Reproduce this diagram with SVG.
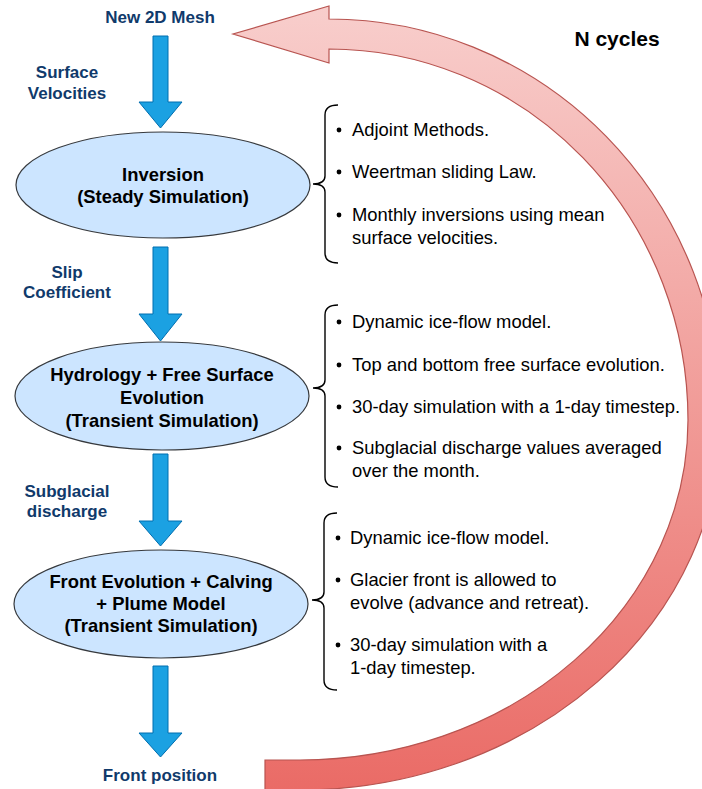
<svg xmlns="http://www.w3.org/2000/svg" width="702" height="789" viewBox="0 0 702 789">
<defs>
<linearGradient id="redGrad" x1="0" y1="0" x2="0" y2="1">
<stop offset="0" stop-color="#f8cecc"/>
<stop offset="1" stop-color="#ea6b66"/>
</linearGradient>
<style>
.node ellipse{fill:#cce5ff;stroke:#36393d;stroke-width:1.2}
.ntext{font-family:"Liberation Sans",Arial,Helvetica,sans-serif;font-weight:bold;font-size:18.4px;fill:#000;text-anchor:middle}
.lbl{font-family:"Liberation Sans",Arial,Helvetica,sans-serif;font-weight:bold;font-size:17px;fill:#103a6b;text-anchor:middle}
.blue{fill:#1ba1e2;stroke:#006eaf;stroke-width:1}
.btxt{font-family:"Liberation Sans",Arial,Helvetica,sans-serif;font-size:18.4px;fill:#000}
.brace{fill:none;stroke:#000;stroke-width:1.4}
.dot{fill:#000}
</style>
</defs>
<rect width="702" height="789" fill="#ffffff"/>

<g id="cycle-arrow">
<path d="M329,19 A392,401 0 0 1 721,420 A421,370 0 0 1 300,790 L265,792 L265,760 L300,760 A388,340 0 0 0 688,420 A359,371 0 0 0 329,49 L329,63 L233,34 L329,6 Z" fill="url(#redGrad)" stroke="#b85450" stroke-width="1.2"/>
</g>
<text x="617" y="46" font-family="'Liberation Sans',Arial,Helvetica,sans-serif" font-weight="bold" font-size="21" fill="#000" text-anchor="middle">N cycles</text>

<g id="connectors">
<polygon class="blue" points="153,36 168,36 168,102 182,102 160.5,128 139,102 153,102"/>
<polygon class="blue" points="153,247 168,247 168,314 182,314 160.5,341 139,314 153,314"/>
<polygon class="blue" points="153,454 168,454 168,521 182,521 160.5,546 139,521 153,521"/>
<polygon class="blue" points="153,666 168,666 168,733 182,733 160.5,757 139,733 153,733"/>
</g>

<g id="labels">
<text class="lbl" x="160" y="23">New 2D Mesh</text>
<text class="lbl" x="67" y="78">Surface</text>
<text class="lbl" x="67" y="99">Velocities</text>
<text class="lbl" x="67" y="278">Slip</text>
<text class="lbl" x="67" y="298">Coefficient</text>
<text class="lbl" x="67" y="497">Subglacial</text>
<text class="lbl" x="67" y="517">discharge</text>
<text class="lbl" x="160" y="781">Front position</text>
</g>

<g id="node-inversion" class="node">
<ellipse cx="163" cy="185" rx="147" ry="53"/>
<text class="ntext" x="163" y="181">Inversion</text>
<text class="ntext" x="163" y="203">(Steady Simulation)</text>
</g>

<g id="node-hydrology" class="node">
<ellipse cx="162" cy="396" rx="147" ry="54"/>
<text class="ntext" x="162" y="381">Hydrology + Free Surface</text>
<text class="ntext" x="162" y="404">Evolution</text>
<text class="ntext" x="162" y="427">(Transient Simulation)</text>
</g>

<g id="node-front" class="node">
<ellipse cx="161" cy="604" rx="147" ry="54"/>
<text class="ntext" x="161" y="588">Front Evolution + Calving</text>
<text class="ntext" x="161" y="610">+ Plume Model</text>
<text class="ntext" x="161" y="632">(Transient Simulation)</text>
</g>

<g id="notes-inversion">
<path class="brace" d="M338,105 Q325,105 325,115 L325,176 Q325,184 313,184 Q325,184 325,192 L325,253 Q325,263 338,263"/>
<circle class="dot" cx="339" cy="130" r="2.4"/>
<text class="btxt" x="352" y="136">Adjoint Methods.</text>
<circle class="dot" cx="339" cy="172" r="2.4"/>
<text class="btxt" x="352" y="178">Weertman sliding Law.</text>
<circle class="dot" cx="339" cy="215" r="2.4"/>
<text class="btxt" x="352" y="221">Monthly inversions using mean</text>
<text class="btxt" x="352" y="244">surface velocities.</text>
</g>

<g id="notes-hydrology">
<path class="brace" d="M338,305 Q325,305 325,315 L325,380 Q325,388 313,388 Q325,388 325,396 L325,477 Q325,487 338,487"/>
<circle class="dot" cx="339" cy="322" r="2.4"/>
<text class="btxt" x="352" y="328">Dynamic ice-flow model.</text>
<circle class="dot" cx="339" cy="365" r="2.4"/>
<text class="btxt" x="352" y="371">Top and bottom free surface evolution.</text>
<circle class="dot" cx="339" cy="407" r="2.4"/>
<text class="btxt" x="352" y="413">30-day simulation with a 1-day timestep.</text>
<circle class="dot" cx="339" cy="448" r="2.4"/>
<text class="btxt" x="352" y="454">Subglacial discharge values averaged</text>
<text class="btxt" x="352" y="477">over the month.</text>
</g>

<g id="notes-front">
<path class="brace" d="M337,513 Q324,513 324,523 L324,592 Q324,600 312,600 Q324,600 324,608 L324,680 Q324,690 337,690"/>
<circle class="dot" cx="338" cy="538" r="2.4"/>
<text class="btxt" x="350" y="544">Dynamic ice-flow model.</text>
<circle class="dot" cx="338" cy="580" r="2.4"/>
<text class="btxt" x="350" y="586">Glacier front is allowed to</text>
<text class="btxt" x="350" y="609">evolve (advance and retreat).</text>
<circle class="dot" cx="338" cy="645" r="2.4"/>
<text class="btxt" x="350" y="651">30-day simulation with a</text>
<text class="btxt" x="350" y="674">1-day timestep.</text>
</g>
</svg>
